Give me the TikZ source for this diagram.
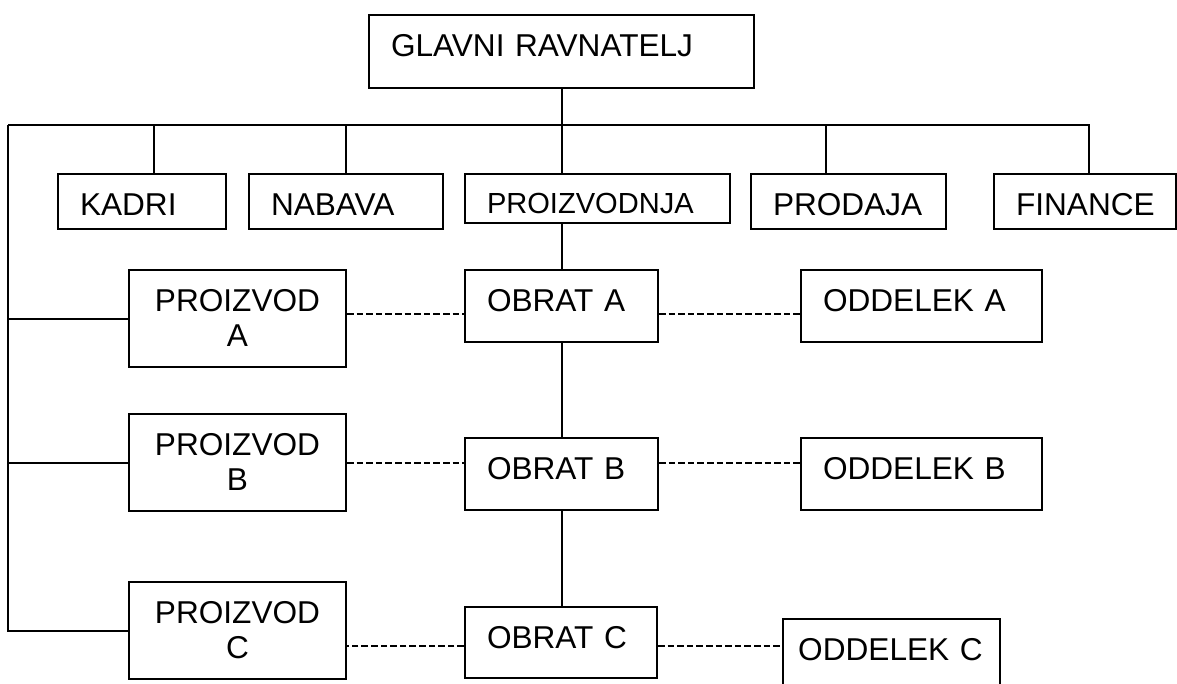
\documentclass[tikz,border=0pt]{standalone}
\usepackage{fontspec}
\setmainfont{Liberation Sans}
\usepackage{tikz}
\usetikzlibrary{calc}

\begin{document}
\begin{tikzpicture}[x=0.75pt,y=-0.75pt,line width=1.5pt,
    okvir/.style={draw,anchor=north west,inner xsep=16.5pt,inner ysep=0pt,
        text height=31.2pt,align=left,font=\fontsize{23.7}{26.5}\selectfont},
    izdelek/.style={okvir,align=center,text width=129.75pt,text depth=41.55pt},
    obrat/.style={okvir,text width=111.75pt,text depth=22.8pt},
    crta/.style={dash pattern=on 5pt off 2.2pt}]
    \useasboundingbox (0,0) rectangle (1177,683);%velikost slike v pikah
    % vrh
    \node[okvir,text width=255.75pt,text depth=23.55pt] (glavni) at (368,14) {GLAVNI RAVNATELJ};
    \node[okvir,text width=93pt,text depth=10.05pt] (kadri) at (57,173) {KADRI};
    \node[okvir,text width=112.5pt,text depth=10.05pt] (nabava) at (248,173) {NABAVA};
    \node[okvir,text width=165.75pt,text height=29.85pt,text depth=6.9pt,
        font=\fontsize{21.8}{24}\selectfont] (proizvodnja) at (464,173) {PROIZVODNJA};
    \node[okvir,text width=113.25pt,text depth=10.05pt] (prodaja) at (750,173) {PRODAJA};
    \node[okvir,text width=103.5pt,text depth=10.05pt] (finance) at (993,173) {FINANCE};
    % vrstice
    \node[izdelek] (proizvodA) at (128,269) {PROIZVOD\\A};
    \node[izdelek] (proizvodB) at (128,413) {PROIZVOD\\B};
    \node[izdelek] (proizvodC) at (128,581) {PROIZVOD\\C};
    \node[obrat] (obratA) at (464,269) {OBRAT A};
    \node[obrat] (obratB) at (464,437) {OBRAT B};
    \node[obrat,text width=111pt,text depth=22pt] (obratC) at (464,606) {OBRAT C};
    \node[obrat,text width=147.75pt] (oddelekA) at (800,269) {ODDELEK A};
    \node[obrat,text width=147.75pt] (oddelekB) at (800,437) {ODDELEK B};
    \node[obrat,inner xsep=11.4pt,text width=140pt] (oddelekC) at (782,618) {ODDELEK C};
    \coordinate (busL) at (8,125);
    % povezave
    \draw (glavni.south) -- (glavni.south |- proizvodnja.north);
    \draw (busL) -- ([xshift=3pt]finance.north |- busL) -- ([xshift=3pt]finance.north);
    \draw ([xshift=9pt]kadri.north) -- ([xshift=9pt]kadri.north |- busL);
    \draw (nabava.north) -- (nabava.north |- busL);
    \draw ([xshift=-16.9pt]prodaja.north) -- ([xshift=-16.9pt]prodaja.north |- busL);
    \draw (busL) |- (proizvodC.west);
    \draw (proizvodA.west) -- (proizvodA.west -| busL);
    \draw (proizvodB.west) -- (proizvodB.west -| busL);
    \draw (obratA.north |- proizvodnja.south) -- (obratA.north);
    \draw (obratA.south) -- (obratB.north);
    \draw (obratB.south) -- (obratB.south |- obratC.north);
    % crtkane
    \draw[crta] ([yshift=3.4pt]proizvodA.east) -- ([yshift=3.4pt]proizvodA.east -| obratA.west);
    \draw[crta] ([yshift=-6pt]obratA.east) -- ([yshift=-6pt]obratA.east -| oddelekA.west);
    \draw[crta] (proizvodB.east) -- (proizvodB.east -| obratB.west);
    \draw[crta] (obratB.east |- proizvodB.east) -- (oddelekB.west |- proizvodB.east);
    \draw[crta] ([yshift=-2.6pt]obratC.west) -- ([yshift=-2.6pt]obratC.west -| proizvodC.east);
    \draw[crta] ([yshift=-2.6pt]obratC.east) -- ([yshift=-2.6pt]obratC.east -| oddelekC.west);
\end{tikzpicture}
\end{document}
